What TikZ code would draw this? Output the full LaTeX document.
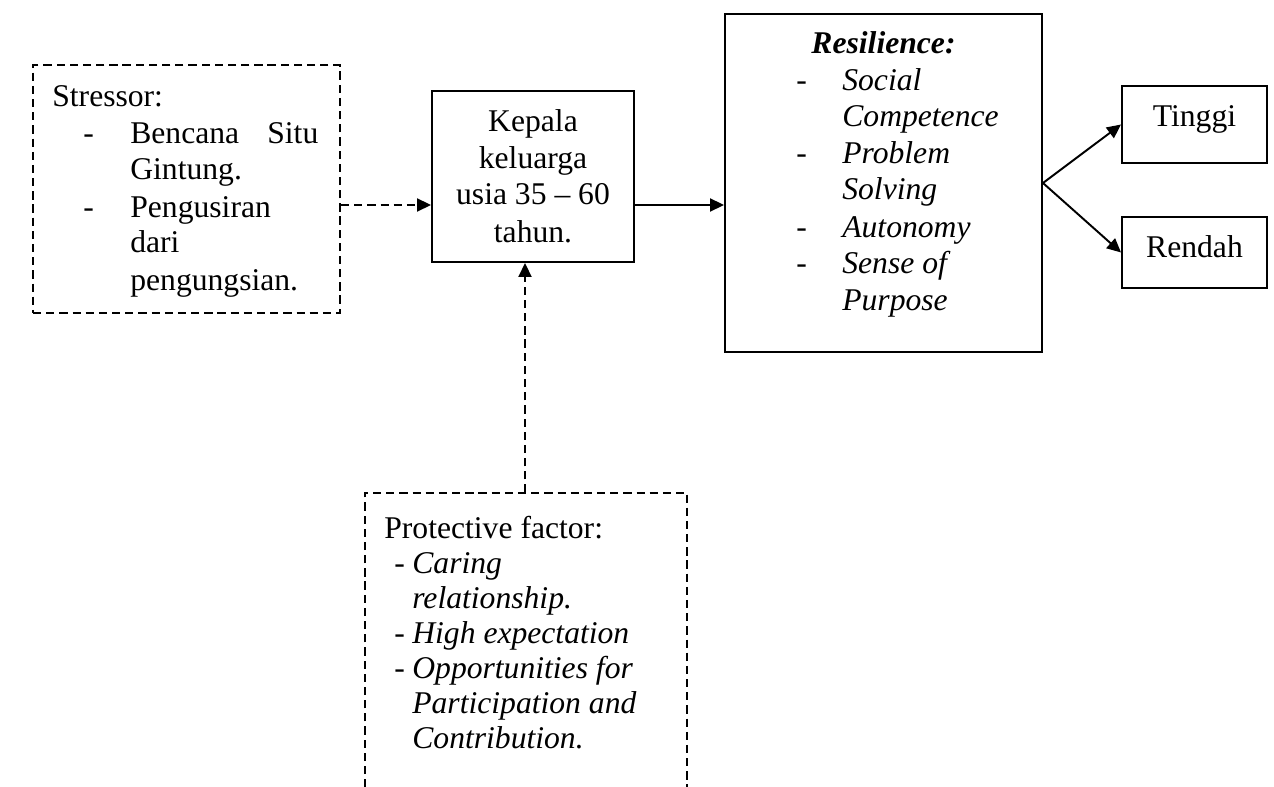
\documentclass[tikz,border=0pt]{standalone}
\usepackage{fontspec}
\setmainfont{Liberation Serif}
\usetikzlibrary{arrows.meta,fit}
\begin{document}
\begin{tikzpicture}[x=0.02cm,y=-0.02cm,
  box/.style={draw, line width=1.1pt, inner sep=0pt},
  dbox/.style={draw, line width=1.1pt, inner sep=0pt, dash pattern=on 4.7pt off 2.8pt},
  hid/.style={inner sep=0pt},
  txt/.style={inner sep=0pt, anchor=base west, font=\fontsize{18pt}{20.8pt}\selectfont},
  ctxt/.style={txt, anchor=base},
  itxt/.style={txt, font=\fontsize{18pt}{20.8pt}\selectfont\itshape},
  arr/.style={line width=1.1pt, -{Triangle[length=2.8mm,width=2.6mm]}},
  darr/.style={arr, dash pattern=on 4.7pt off 2.8pt},
]
\useasboundingbox (0,0) rectangle (1274,787);

% boxes
\node[dbox, fit={(33,65)(340,313)}] (stress) {};
\node[box, fit={(432,91)(634,262)}] (kep) {};
\node[box, fit={(725,14)(1042,352)}] (res) {};
\node[box, fit={(1122,86)(1267,163)}] (tinggi) {};
\node[box, fit={(1122,217)(1267,288)}] (rendah) {};
\node[hid, fit={(365,493)(687,787)}] (prot) {};
\draw[line width=1.1pt, dash pattern=on 4.7pt off 2.8pt]
  (prot.south west) -- (prot.north west) -- (prot.north east) -- (prot.south east);

% stressor text
\node[txt] (s0) at (52,107) {Stressor:};
\node[txt] (s1d) at (83,144) {-};
\node[txt] (s1) at (130,144) {\makebox[3.76cm][s]{Bencana Situ}};
\node[txt] (s1b) at (130,180) {Gintung.};
\node[txt] (s2d) at (83,217) {-};
\node[txt] (s2) at (130,217) {Pengusiran};
\node[txt] (s2b) at (130,253) {dari};
\node[txt] (s2c) at (130,290) {pengungsian.};

% kepala text
\node[ctxt] (k1) at (533,132) {Kepala};
\node[ctxt] (k2) at (533,169) {keluarga};
\node[ctxt] (k3) at (533,205) {usia 35 – 60};
\node[ctxt] (k4) at (533,242) {tahun.};

% resilience text
\node[ctxt, font=\fontsize{18pt}{20.8pt}\selectfont\bfseries\itshape] (r0) at (883.5,54) {Resilience:};
\node[txt] (r1d) at (796,91) {-};
\node[itxt] (r1) at (842,91) {Social};
\node[itxt] (r1b) at (842,127) {Competence};
\node[txt] (r2d) at (796,164) {-};
\node[itxt] (r2) at (842,164) {Problem};
\node[itxt] (r2b) at (842,200) {Solving};
\node[txt] (r3d) at (796,237) {-};
\node[itxt] (r3) at (842,237) {Autonomy};
\node[txt] (r4d) at (796,274) {-};
\node[itxt] (r4) at (842,274) {Sense of};
\node[itxt] (r4b) at (842,310) {Purpose};

% outcome text
\node[ctxt] (t1) at (1194.5,127) {Tinggi};
\node[ctxt] (t2) at (1194.5,257) {Rendah};

% protective text
\node[txt] (p0) at (384,538) {Protective factor:};
\node[txt] (p1d) at (394,573) {-};
\node[itxt] (p1) at (412,573) {Caring};
\node[itxt] (p1b) at (412,608) {relationship.};
\node[txt] (p2d) at (394,643) {-};
\node[itxt] (p2) at (412,643) {High expectation};
\node[txt] (p3d) at (394,678) {-};
\node[itxt] (p3) at (412,678) {Opportunities for};
\node[itxt] (p3b) at (412,713) {Participation and};
\node[itxt] (p3c) at (412,748) {Contribution.};

% connectors
\coordinate (ay) at ([yshift=-0.57cm]kep.west);
\draw[darr] (ay -| stress.east) -- (ay);
\coordinate (by) at ([yshift=-0.57cm]kep.east);
\draw[arr] (by) -- (by -| res.west);
\coordinate (vx) at ([xshift=-0.16cm]kep.south);
\draw[darr] (vx |- prot.north) -- (vx);
\draw[arr] (res.east) -- (tinggi.west);
\draw[arr] (res.east) -- (rendah.west);
\end{tikzpicture}
\end{document}
